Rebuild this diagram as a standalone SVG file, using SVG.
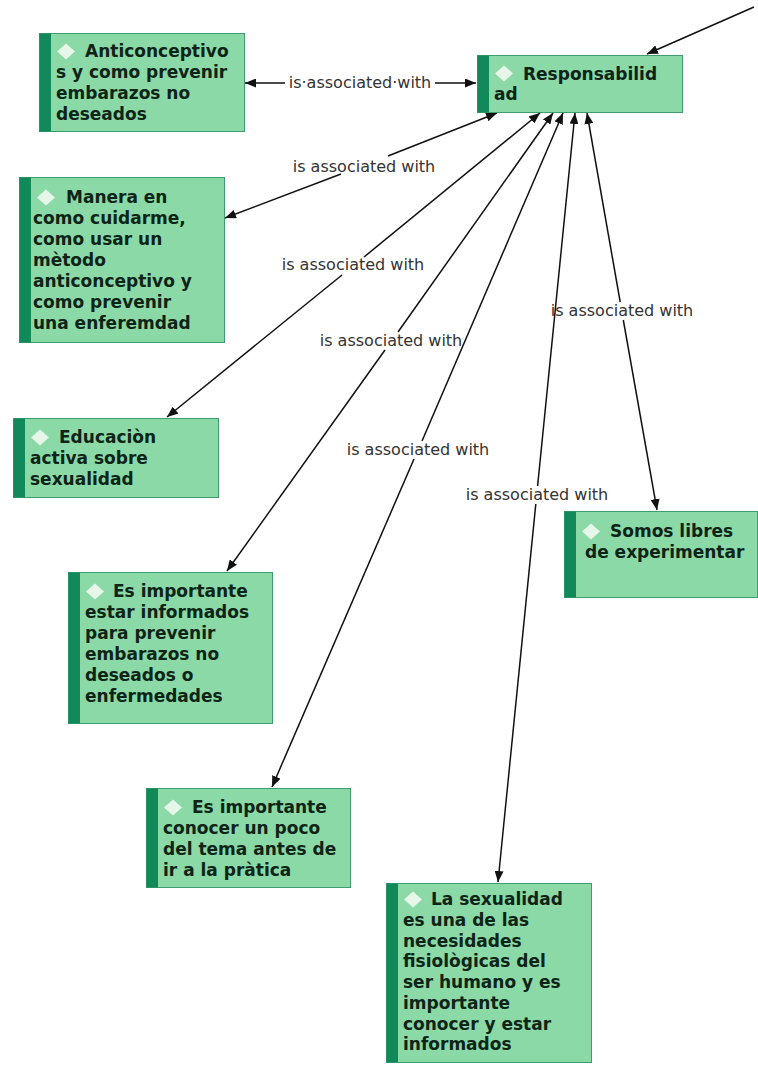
<svg xmlns="http://www.w3.org/2000/svg" width="758" height="1066" viewBox="0 0 758 1066">
<defs>
<style>
.box{fill:#8bd9a6;stroke:#3f9d6d;stroke-width:1}
.bar{fill:#12895a}
.dia{fill:#e6f7ea}
.nt{font-family:"DejaVu Sans",sans-serif;font-weight:bold;font-size:17px;fill:#0e2416}
.lb{font-family:"DejaVu Sans",sans-serif;font-size:16px;fill:#333333;text-anchor:middle}
.ln{stroke:#111;stroke-width:1.5;fill:none}
.s{marker-start:url(#ah)}
.e{marker-end:url(#ah)}
</style>
<marker id="ah" markerUnits="userSpaceOnUse" markerWidth="12" markerHeight="9" refX="11" refY="4.5" orient="auto-start-reverse">
<path d="M0,0 L11,4.5 L0,9 z" fill="#111"/>
</marker>
</defs>
<rect width="758" height="1066" fill="#ffffff"/>

<g id="connectors">
<line class="ln e" x1="754" y1="7" x2="647" y2="54"/>
<line class="ln s" x1="245" y1="83" x2="285" y2="83"/>
<line class="ln e" x1="435" y1="83" x2="476" y2="83"/>
<text class="lb" x="360" y="88">is·associated·with</text>

<line class="ln s" x1="497" y1="113" x2="388" y2="156"/>
<line class="ln e" x1="341" y1="174" x2="225" y2="218"/>
<text class="lb" x="364" y="172">is associated with</text>

<line class="ln s" x1="540" y1="113" x2="364" y2="257"/>
<line class="ln e" x1="342" y1="275" x2="167" y2="417"/>
<text class="lb" x="353" y="270">is associated with</text>

<line class="ln s" x1="553" y1="113" x2="398" y2="332"/>
<line class="ln e" x1="385" y1="350" x2="227" y2="571"/>
<text class="lb" x="391" y="346">is associated with</text>

<line class="ln s" x1="563" y1="113" x2="422" y2="441"/>
<line class="ln e" x1="414" y1="459" x2="272" y2="787"/>
<text class="lb" x="418" y="455">is associated with</text>

<line class="ln s" x1="575" y1="113" x2="537.6" y2="486"/>
<line class="ln e" x1="535.8" y1="504" x2="498" y2="882"/>
<text class="lb" x="537" y="500">is associated with</text>

<line class="ln s" x1="587" y1="113" x2="620.2" y2="302"/>
<line class="ln e" x1="623.3" y1="320" x2="657" y2="510"/>
<text class="lb" x="622" y="316">is associated with</text>
</g>

<g id="node-anticonceptivos">
<rect class="box" x="39.5" y="33.5" width="205" height="98"/>
<rect class="bar" x="39.5" y="33.5" width="11.5" height="98"/>
<path class="dia" d="M66,43.5 L75,51.5 L66,59.5 L57,51.5 z"/>
<text class="nt"><tspan x="85" y="57">Anticonceptivo</tspan><tspan x="56" y="78">s y como prevenir</tspan><tspan x="56" y="99">embarazos no</tspan><tspan x="56" y="120">deseados</tspan></text>
</g>

<g id="node-responsabilidad">
<rect class="box" x="477.5" y="55.5" width="205" height="57"/>
<rect class="bar" x="477.5" y="55.5" width="11.5" height="57"/>
<path class="dia" d="M504,65.5 L513,73.5 L504,81.5 L495,73.5 z"/>
<text class="nt"><tspan x="523" y="80">Responsabilid</tspan><tspan x="494" y="100">ad</tspan></text>
</g>

<g id="node-manera">
<rect class="box" x="19.5" y="177.5" width="205" height="165"/>
<rect class="bar" x="19.5" y="177.5" width="11.5" height="165"/>
<path class="dia" d="M46,189.5 L55,197.5 L46,205.5 L37,197.5 z"/>
<text class="nt"><tspan x="66" y="203">Manera en</tspan><tspan x="33" y="224">como cuidarme,</tspan><tspan x="33" y="245">como usar un</tspan><tspan x="33" y="266">mètodo</tspan><tspan x="33" y="287">anticonceptivo y</tspan><tspan x="33" y="308">como prevenir</tspan><tspan x="33" y="329">una enferemdad</tspan></text>
</g>

<g id="node-educacion">
<rect class="box" x="13.5" y="418.5" width="205" height="79"/>
<rect class="bar" x="13.5" y="418.5" width="11.5" height="79"/>
<path class="dia" d="M40,429.5 L49,437.5 L40,445.5 L31,437.5 z"/>
<text class="nt"><tspan x="59" y="443">Educaciòn</tspan><tspan x="30" y="464">activa sobre</tspan><tspan x="30" y="485">sexualidad</tspan></text>
</g>

<g id="node-somos">
<rect class="box" x="564.5" y="511.5" width="193" height="86"/>
<rect class="bar" x="564.5" y="511.5" width="11.5" height="86"/>
<path class="dia" d="M591,523.5 L600,531.5 L591,539.5 L582,531.5 z"/>
<text class="nt"><tspan x="610" y="537">Somos libres</tspan><tspan x="585" y="558">de experimentar</tspan></text>
</g>

<g id="node-estar-informados">
<rect class="box" x="68.5" y="572.5" width="204" height="151"/>
<rect class="bar" x="68.5" y="572.5" width="11.5" height="151"/>
<path class="dia" d="M95,583.5 L104,591.5 L95,599.5 L86,591.5 z"/>
<text class="nt"><tspan x="113" y="597">Es importante</tspan><tspan x="85" y="618">estar informados</tspan><tspan x="85" y="639">para prevenir</tspan><tspan x="85" y="660">embarazos no</tspan><tspan x="85" y="681">deseados o</tspan><tspan x="85" y="702">enfermedades</tspan></text>
</g>

<g id="node-conocer">
<rect class="box" x="146.5" y="788.5" width="204" height="99"/>
<rect class="bar" x="146.5" y="788.5" width="11.5" height="99"/>
<path class="dia" d="M173,799.5 L182,807.5 L173,815.5 L164,807.5 z"/>
<text class="nt"><tspan x="192" y="813">Es importante</tspan><tspan x="163" y="834">conocer un poco</tspan><tspan x="163" y="855">del tema antes de</tspan><tspan x="163" y="876">ir a la pràtica</tspan></text>
</g>

<g id="node-sexualidad">
<rect class="box" x="386.5" y="883.5" width="205" height="179"/>
<rect class="bar" x="386.5" y="883.5" width="11.5" height="179"/>
<path class="dia" d="M413,891.5 L422,899.5 L413,907.5 L404,899.5 z"/>
<text class="nt"><tspan x="431" y="905">La sexualidad</tspan><tspan x="403" y="925.75">es una de las</tspan><tspan x="403" y="946.5">necesidades</tspan><tspan x="403" y="967.25">fisiològicas del</tspan><tspan x="403" y="988">ser humano y es</tspan><tspan x="403" y="1008.75">importante</tspan><tspan x="403" y="1029.5">conocer y estar</tspan><tspan x="403" y="1050.25">informados</tspan></text>
</g>
</svg>
